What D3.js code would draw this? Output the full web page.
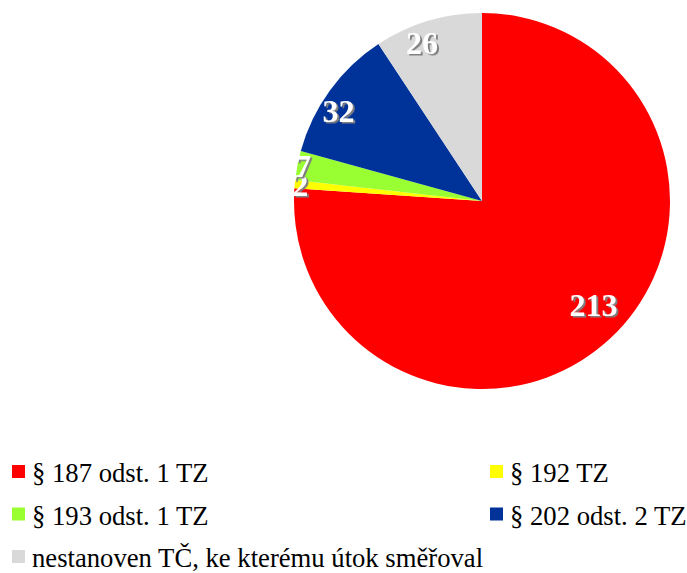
<!DOCTYPE html>
<html><head><meta charset="utf-8">
<script src="https://cdn.jsdelivr.net/npm/d3@7/dist/d3.min.js"></script>
<style>body{margin:0;background:#fff;} svg{display:block;}</style>
</head><body>
<script>
const categories = ["§ 187 odst. 1 TZ", "§ 192 TZ", "§ 193 odst. 1 TZ", "§ 202 odst. 2 TZ", "nestanoven TČ, ke kterému útok směřoval"];
const values = [213, 2, 7, 32, 26];
const colors = ["#FF0000", "#FFFF00", "#99FF33", "#003399", "#D9D9D9"];

const W = 687, H = 573;
const svg = d3.select("body").append("svg").attr("width", W).attr("height", H);
const defs = svg.append("defs");
const f = defs.append("filter").attr("id", "sh").attr("x", "-20%").attr("y", "-20%").attr("width", "140%").attr("height", "140%");
f.append("feDropShadow").attr("dx", 2).attr("dy", 1.5).attr("stdDeviation", 0.6)
  .attr("flood-color", "#808080").attr("flood-opacity", 1);

const cx = 482, cy = 201, r = 188;
const data = categories.map((c, i) => ({cat: c, value: values[i], color: colors[i]}));
const pie = d3.pie().value(d => d.value).sort(null);
const arcs = pie(data);
const arc = d3.arc().innerRadius(0).outerRadius(r);
const g = svg.append("g").attr("transform", `translate(${cx},${cy})`);
g.selectAll("path.slice").data(arcs).join("path")
  .attr("d", arc).attr("fill", d => d.data.color);

const font = "'Liberation Serif','Times New Roman',serif";
function labelPos(d) {
  const span = d.endAngle - d.startAngle;
  let k, a = (d.startAngle + d.endAngle) / 2;
  if (span < 0.3) { k = 0.97; }
  else { k = span > Math.PI ? 0.81 : 0.9; a -= 0.07; }
  return [Math.sin(a) * r * k, -Math.cos(a) * r * k];
}
g.selectAll("text.lab").data(arcs).join("text").attr("class", "lab")
  .attr("transform", d => `translate(${labelPos(d)})`)
  .attr("text-anchor", "middle").attr("dominant-baseline", "central")
  .attr("font-family", font).attr("font-weight", "bold").attr("font-size", 32)
  .attr("fill", "#ffffff").attr("filter", "url(#sh)")
  .text(d => d.data.value);

// legend
const colX = [12, 490];
const rowY = [482, 524.5, 567];
const leg = svg.selectAll("g.leg").data(data).join("g").attr("class", "leg")
  .attr("transform", (d, i) => `translate(${colX[i % 2]},${rowY[Math.floor(i / 2)]})`);
leg.append("rect").attr("x", 0).attr("y", -17).attr("width", 13).attr("height", 13)
  .attr("fill", d => d.color);
leg.append("text").attr("x", 20).attr("y", 0)
  .attr("font-family", font).attr("font-size", 26.67).attr("fill", "#000")
  .text(d => d.cat);
</script>
</body></html>
